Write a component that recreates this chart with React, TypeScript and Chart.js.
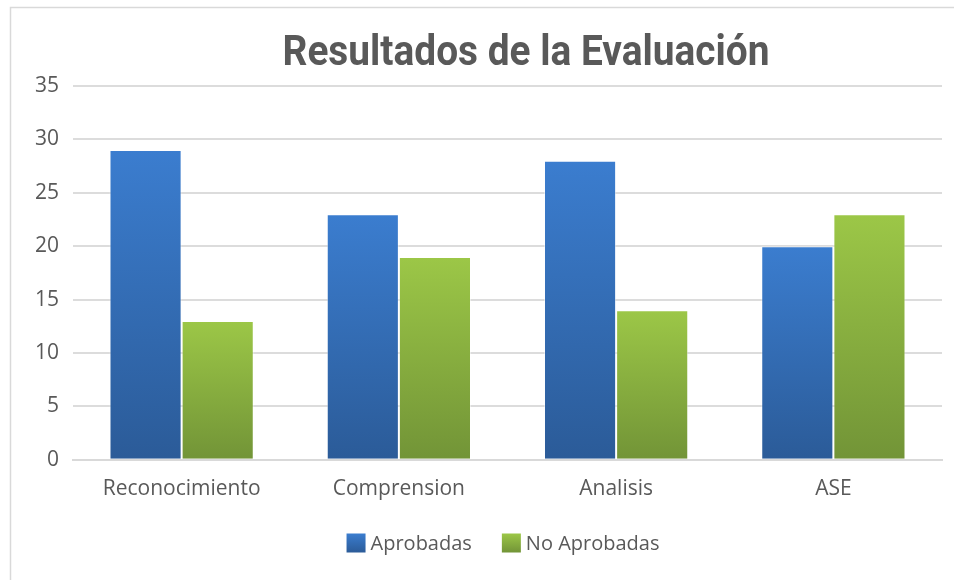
import React, { useEffect, useRef } from "react";
import { Chart, registerables } from "chart.js";

Chart.register(...registerables);

const categories = ["Reconocimiento", "Comprension", "Analisis", "ASE"];
const aprobadas = [29, 23, 28, 20];
const noAprobadas = [13, 19, 14, 23];
const titleText = "Resultados de la Evaluación";
const seriesNames = ["Aprobadas", "No Aprobadas"];

const BLUE_TOP = "#3b7dcf";
const BLUE_BOTTOM = "#2b5b98";
const GREEN_TOP = "#9cc747";
const GREEN_BOTTOM = "#729437";

function barGradient(top: string, bottom: string) {
  return (ctx: any) => {
    const chart = ctx.chart;
    const y = chart.scales && chart.scales.y;
    if (!y || ctx.type !== "data") return top;
    const v = ctx.parsed ? ctx.parsed.y : ctx.raw;
    const y0 = y.getPixelForValue(v);
    const y1 = y.getPixelForValue(0);
    if (!isFinite(y0) || !isFinite(y1) || y0 === y1) return top;
    const g = chart.ctx.createLinearGradient(0, y0, 0, y1);
    g.addColorStop(0, top);
    g.addColorStop(1, bottom);
    return g;
  };
}

const decorPlugin = {
  id: "decor",
  beforeDraw(chart: any) {
    const c = chart.ctx;
    c.save();
    c.fillStyle = "#ffffff";
    c.fillRect(0, 0, chart.width, chart.height);
    c.strokeStyle = "#d9d9d9";
    c.lineWidth = 1.5;
    c.beginPath();
    c.moveTo(10.5, chart.height);
    c.lineTo(10.5, 7.5);
    c.lineTo(chart.width, 7.5);
    c.stroke();
    c.restore();
  },
  afterDraw(chart: any) {
    const c = chart.ctx;
    // title
    c.save();
    c.font = "bold 42px Roboto";
    c.fillStyle = "#595959";
    c.textAlign = "center";
    c.textBaseline = "alphabetic";
    const w = c.measureText(titleText).width;
    const sx = 487 / w;
    c.translate(526, 65);
    c.scale(sx, 1);
    c.fillText(titleText, 0, 0);
    c.restore();

    // legend
    c.save();
    c.font = "20px 'Open Sans'";
    c.textBaseline = "middle";
    c.textAlign = "left";
    const box = 19;
    const gapText = 5;
    const gapItem = 30;
    const cols = [
      [BLUE_TOP, BLUE_BOTTOM],
      [GREEN_TOP, GREEN_BOTTOM],
    ];
    const widths = seriesNames.map((n) => box + gapText + c.measureText(n).width);
    const total = widths.reduce((a, b) => a + b, 0) + gapItem * (seriesNames.length - 1);
    let x = 503 - total / 2;
    const cy = 543;
    seriesNames.forEach((n, i) => {
      const g = c.createLinearGradient(0, cy - box / 2, 0, cy + box / 2);
      g.addColorStop(0, cols[i][0]);
      g.addColorStop(1, cols[i][1]);
      c.fillStyle = g;
      c.fillRect(x, cy - box / 2, box, box);
      c.fillStyle = "#595959";
      c.fillText(n, x + box + gapText, cy + 1);
      x += widths[i] + gapItem;
    });
    c.restore();
  },
};

export default function App() {
  const ref = useRef<HTMLCanvasElement>(null);
  useEffect(() => {
    if (!ref.current) return;
    const chart = new Chart(ref.current, {
      type: "bar",
      data: {
        labels: categories,
        datasets: [
          {
            label: seriesNames[0],
            data: aprobadas,
            backgroundColor: barGradient(BLUE_TOP, BLUE_BOTTOM) as any,
            borderColor: "rgba(255,255,255,0.45)",
            borderWidth: 1,
            categoryPercentage: 0.664,
            barPercentage: 1.0,
          },
          {
            label: seriesNames[1],
            data: noAprobadas,
            backgroundColor: barGradient(GREEN_TOP, GREEN_BOTTOM) as any,
            borderColor: "rgba(255,255,255,0.45)",
            borderWidth: 1,
            categoryPercentage: 0.664,
            barPercentage: 1.0,
          },
        ],
      },
      options: {
        animation: false,
        responsive: false,
        maintainAspectRatio: false,
        layout: { padding: { left: 20, right: 12, top: 86, bottom: 61 } },
        plugins: {
          title: { display: false },
          legend: { display: false },
          tooltip: { enabled: false },
        },
        scales: {
          x: {
            grid: { display: false, drawTicks: false },
            border: { display: true, color: "#d9d9d9", width: 2 },
            ticks: {
              color: "#595959",
              font: { family: "Open Sans", size: 21 },
              padding: 17,
            },
          },
          y: {
            min: 0,
            max: 35,
            grid: { color: "#dcdcdc", lineWidth: 2, drawTicks: false },
            border: { display: false },
            ticks: {
              stepSize: 5,
              color: "#595959",
              font: { family: "Open Sans", size: 21 },
              padding: 14,
            },
            afterFit: (s: any) => {
              s.width = 53;
            },
          },
        },
      },
      plugins: [decorPlugin],
    });
    return () => chart.destroy();
  }, []);
  return (
    <div style={{ position: "fixed", left: 0, top: 0, width: 954, height: 580 }}>
      <canvas ref={ref} width={954} height={580} style={{ width: 954, height: 580, display: "block" }} />
    </div>
  );
}
